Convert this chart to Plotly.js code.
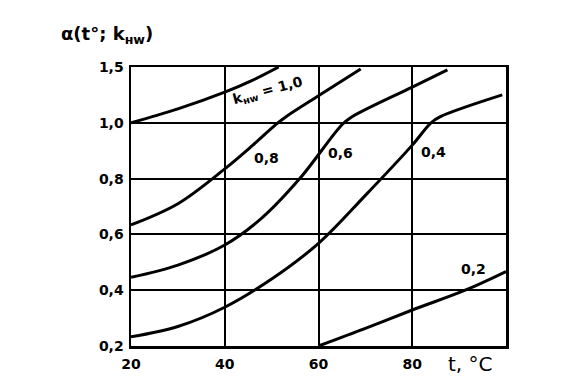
<!DOCTYPE html>
<html>
<head>
<meta charset="utf-8">
<script src="https://cdn.plot.ly/plotly-3.0.1.min.js"></script>
<style>html,body{margin:0;padding:0;background:#fff;}#chart{width:575px;height:388px;}</style>
</head>
<body>
<div id="chart"></div>
<script>
// Temperature t, °C and coefficient α for each k_нw curve (axis units)
const t_k10 = [20, 30, 40, 46, 51.5];
const a_k10 = [1.0, 1.05, 1.11, 1.153, 1.2];

const t_k08 = [20, 30, 40, 46, 51, 53, 60, 69];
const a_k08 = [0.634, 0.71, 0.835, 0.92, 0.995, 1.021, 1.097, 1.193];

const t_k06 = [20, 30, 40, 48, 56, 65, 67, 80, 87.5];
const a_k06 = [0.446, 0.49, 0.562, 0.66, 0.8, 0.993, 1.02, 1.128, 1.19];

const t_k04 = [20, 30, 40, 50, 60, 70, 80, 84, 86, 99.2];
const a_k04 = [0.233, 0.27, 0.339, 0.44, 0.568, 0.74, 0.92, 1.0, 1.022, 1.10];

const t_k02 = [60, 70, 80, 91.3, 100];
const a_k02 = [0.2, 0.263, 0.329, 0.4, 0.467];

const xTickVals = [20, 40, 60, 80];
const xTickText = ["20", "40", "60", "80"];
const yTickVals = [0.2, 0.4, 0.6, 0.8, 1.0, 1.2];
const yTickText = ["0,2", "0,4", "0,6", "0,8", "1,0", "1,5"];

const curveLabels = ["k<sub>нw</sub> = 1,0", "0,8", "0,6", "0,4", "0,2"];
const labelT = [49.2, 48.9, 64.6, 84.6, 93.0];
const labelA = [1.115, 0.873, 0.891, 0.897, 0.475];
const labelAngle = [-15, 0, 0, 0, 0];

const series = [[t_k10, a_k10], [t_k08, a_k08], [t_k06, a_k06], [t_k04, a_k04], [t_k02, a_k02]];
const traces = series.map(s => ({
  x: s[0], y: s[1], type: "scatter", mode: "lines",
  line: {color: "#000", width: 3, shape: "spline", smoothing: 1},
  hoverinfo: "skip", showlegend: false
}));

const annotations = curveLabels.map((txt, i) => ({
  x: labelT[i], y: labelA[i], xref: "x", yref: "y",
  xanchor: "center", yanchor: "middle",
  text: txt, showarrow: false, textangle: labelAngle[i],
  font: {family: "DejaVu Sans", size: 14, color: "#000", weight: "bold"}
}));
annotations.push({
  x: -0.064, y: 1.115, xref: "paper", yref: "paper", showarrow: false,
  xanchor: "center", yanchor: "middle",
  text: "α(t°; k<sub>нw</sub>)",
  font: {family: "DejaVu Sans", size: 18, color: "#000", weight: "bold"}
});
annotations.push({
  x: 0.905, y: -0.065, xref: "paper", yref: "paper", showarrow: false,
  xanchor: "center", yanchor: "middle",
  text: "t, °C",
  font: {family: "DejaVu Sans", size: 20, color: "#000"}
});

const layout = {
  width: 575, height: 388,
  margin: {l: 131, r: 69, t: 67, b: 42},
  paper_bgcolor: "#fff", plot_bgcolor: "#fff",
  showlegend: false,
  xaxis: {
    range: [20, 100], tickvals: xTickVals, ticktext: xTickText,
    showgrid: true, gridcolor: "#000", gridwidth: 2,
    showline: true, mirror: true, linecolor: "#000", linewidth: 2.5,
    zeroline: false, ticks: "", ticklabelstandoff: 4,
    tickfont: {family: "DejaVu Sans", size: 14, color: "#000", weight: "bold"}
  },
  yaxis: {
    range: [0.2, 1.2], tickvals: yTickVals, ticktext: yTickText,
    showgrid: true, gridcolor: "#000", gridwidth: 2,
    showline: true, mirror: true, linecolor: "#000", linewidth: 2.5,
    zeroline: false, ticks: "", ticklabelstandoff: 2,
    tickfont: {family: "DejaVu Sans", size: 14, color: "#000", weight: "bold"}
  },
  annotations: annotations
};

Plotly.newPlot("chart", traces, layout, {displayModeBar: false, staticPlot: true});
</script>
</body>
</html>
